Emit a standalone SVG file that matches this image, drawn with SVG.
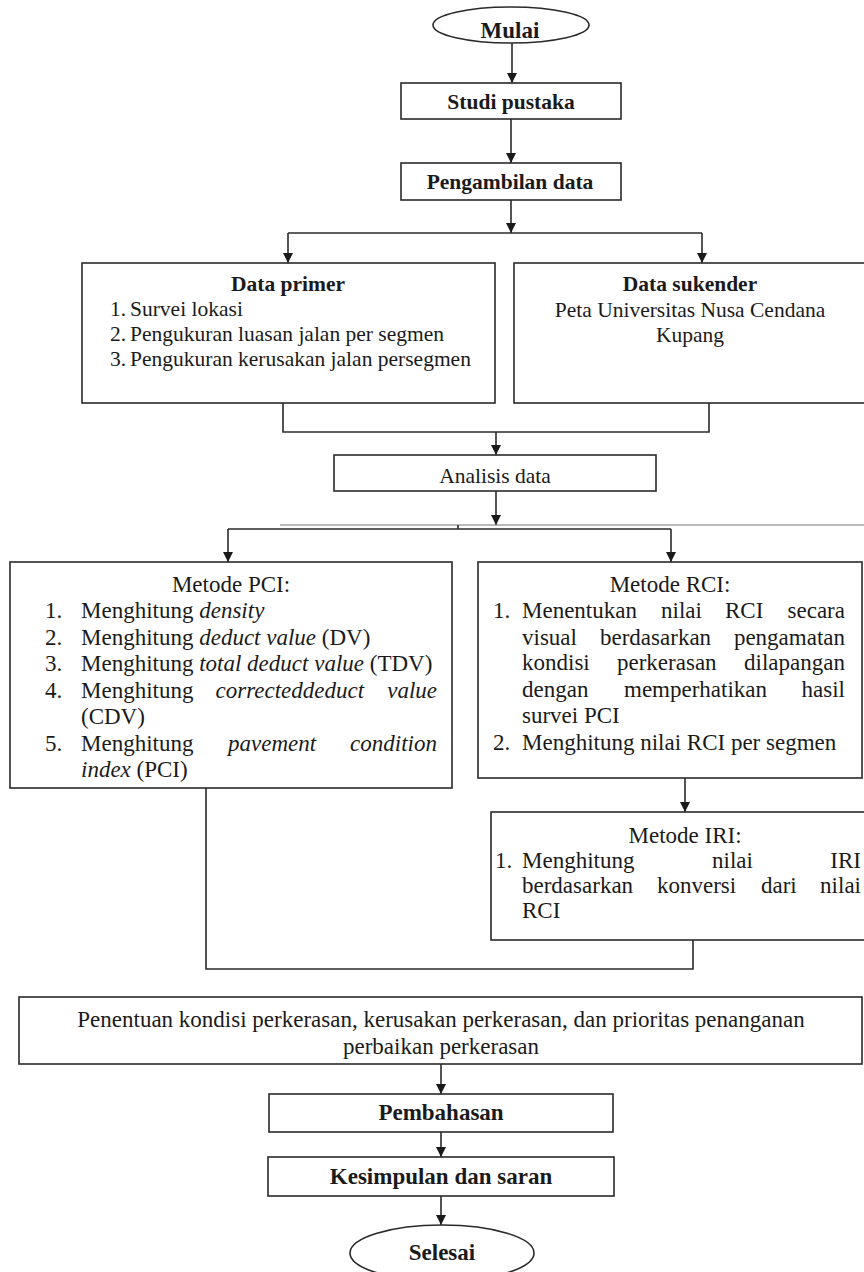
<svg xmlns="http://www.w3.org/2000/svg" width="864" height="1272" viewBox="0 0 864 1272">
<defs>
<marker id="ah" markerUnits="userSpaceOnUse" markerWidth="10" markerHeight="12" viewBox="0 0 10 12" refX="10" refY="6" orient="auto"><path d="M0,1 L10,6 L0,11 z" fill="#1a1a1a"/></marker>
<style>
.box{fill:#fff;stroke:#2a2a2a;stroke-width:1.6}
.ln{fill:none;stroke:#2a2a2a;stroke-width:1.6}
.ar{fill:none;stroke:#2a2a2a;stroke-width:1.6;marker-end:url(#ah)}
.thin{fill:none;stroke:#777;stroke-width:1}
.t{font-family:"Liberation Serif","Times New Roman",serif;fill:#1a1a1a}
.s{font-size:21.5px}
.m{font-size:23px}
.b{font-weight:bold}
.c{text-anchor:middle}
.e{text-anchor:end}
.i{font-style:italic}
</style>
</defs>
<rect width="864" height="1272" fill="#fff"/>
<g id="connectors">
<path class="ar" d="M512,43 V83"/>
<path class="ar" d="M511,119 V163"/>
<path class="ar" d="M511,200 V233"/>
<path class="ln" d="M288,233 H702"/>
<path class="ar" d="M288,233 V263"/>
<path class="ar" d="M702,233 V263"/>
<path class="ln" d="M283,403 V432 H709 V403"/>
<path class="ar" d="M496,432 V455"/>
<path class="ar" d="M496,491 V525"/>
<path class="thin" d="M280,525 H864"/>
<path class="ln" d="M228,529 H671 M458,525 V529"/>
<path class="ar" d="M228,529 V562"/>
<path class="ar" d="M671,529 V562"/>
<path class="ar" d="M685,778 V812"/>
<path class="ln" d="M206,788 V969 H693 V940"/>
<path class="ar" d="M441,1064 V1094"/>
<path class="ar" d="M441,1132 V1157"/>
<path class="ar" d="M441,1196 V1225"/>
</g>
<g id="mulai">
<ellipse class="box" cx="511" cy="25" rx="78" ry="18"/>
<text class="t m b c" x="510" y="38">Mulai</text>
</g>
<g id="studi">
<rect class="box" x="401" y="83" width="220" height="36"/>
<text class="t s b c" x="511" y="109">Studi pustaka</text>
</g>
<g id="pengambilan">
<rect class="box" x="401" y="163" width="220" height="37"/>
<text class="t s b c" x="510" y="189">Pengambilan data</text>
</g>
<g id="primer">
<rect class="box" x="82" y="263" width="413" height="140"/>
<text class="t s b c" x="288" y="291">Data primer</text>
<text class="t s" x="110" y="316">1.</text><text class="t s" x="130" y="316">Survei lokasi</text>
<text class="t s" x="110" y="341">2.</text><text class="t s" x="130" y="341">Pengukuran luasan jalan per segmen</text>
<text class="t s" x="110" y="366">3.</text><text class="t s" x="130" y="366">Pengukuran kerusakan jalan persegmen</text>
</g>
<g id="sukender">
<rect class="box" x="514" y="263" width="352" height="140"/>
<text class="t s b c" x="690" y="291">Data sukender</text>
<text class="t s c" x="690" y="317">Peta Universitas Nusa Cendana</text>
<text class="t s c" x="690" y="342">Kupang</text>
</g>
<g id="analisis">
<rect class="box" x="334" y="455" width="322" height="36"/>
<text class="t s c" x="495" y="483">Analisis data</text>
</g>
<g id="pci">
<rect class="box" x="10" y="562" width="442" height="226"/>
<text class="t m c" x="231" y="592">Metode PCI:</text>
<text class="t m" x="45" y="618">1.</text><text class="t m" x="81" y="618">Menghitung <tspan class="i">density</tspan></text>
<text class="t m" x="45" y="645">2.</text><text class="t m" x="81" y="645">Menghitung <tspan class="i">deduct value</tspan> (DV)</text>
<text class="t m" x="45" y="671">3.</text><text class="t m" x="81" y="671">Menghitung <tspan class="i">total deduct value</tspan> (TDV)</text>
<text class="t m" x="45" y="698">4.</text><text class="t m" x="81" y="698">Menghitung</text><text class="t m i" x="215.5" y="698">correcteddeduct</text><text class="t m i e" x="437" y="698">value</text>
<text class="t m" x="81" y="724">(CDV)</text>
<text class="t m" x="45" y="751">5.</text><text class="t m" x="81" y="751">Menghitung</text><text class="t m i" x="228" y="751">pavement</text><text class="t m i e" x="437" y="751">condition</text>
<text class="t m" x="81" y="777"><tspan class="i">index</tspan> (PCI)</text>
</g>
<g id="rci">
<rect class="box" x="478" y="562" width="384" height="216"/>
<text class="t m c" x="670" y="592">Metode RCI:</text>
<text class="t m" x="493" y="618">1.</text>
<text class="t m" x="522" y="618">Menentukan</text><text class="t m" x="661" y="618">nilai</text><text class="t m" x="725" y="618">RCI</text><text class="t m e" x="845" y="618">secara</text>
<text class="t m" x="522" y="645">visual</text><text class="t m" x="600" y="645">berdasarkan</text><text class="t m e" x="845" y="645">pengamatan</text>
<text class="t m" x="522" y="670">kondisi</text><text class="t m" x="617" y="670">perkerasan</text><text class="t m e" x="845" y="670">dilapangan</text>
<text class="t m" x="522" y="697">dengan</text><text class="t m" x="624" y="697">memperhatikan</text><text class="t m e" x="845" y="697">hasil</text>
<text class="t m" x="522" y="723">survei PCI</text>
<text class="t m" x="493" y="750">2.</text><text class="t m" x="522" y="750">Menghitung nilai RCI per segmen</text>
</g>
<g id="iri">
<rect class="box" x="491" y="812" width="380" height="128"/>
<text class="t m c" x="685" y="843">Metode IRI:</text>
<text class="t m" x="495" y="868">1.</text>
<text class="t m" x="522" y="868">Menghitung</text><text class="t m" x="712" y="868">nilai</text><text class="t m e" x="861" y="868">IRI</text>
<text class="t m" x="522" y="893">berdasarkan</text><text class="t m" x="657" y="893">konversi</text><text class="t m" x="761" y="893">dari</text><text class="t m e" x="861" y="893">nilai</text>
<text class="t m" x="522" y="918">RCI</text>
</g>
<g id="penentuan">
<rect class="box" x="19" y="997" width="843" height="67"/>
<text class="t m c" x="441" y="1027">Penentuan kondisi perkerasan, kerusakan perkerasan, dan prioritas penanganan</text>
<text class="t m c" x="441" y="1054">perbaikan perkerasan</text>
</g>
<g id="pembahasan">
<rect class="box" x="269" y="1094" width="344" height="38"/>
<text class="t m b c" x="441" y="1120">Pembahasan</text>
</g>
<g id="kesimpulan">
<rect class="box" x="268" y="1157" width="346" height="39"/>
<text class="t m b c" x="441" y="1184">Kesimpulan dan saran</text>
</g>
<g id="selesai">
<ellipse class="box" cx="442" cy="1253" rx="92" ry="28"/>
<text class="t m b c" x="442" y="1260">Selesai</text>
</g>
</svg>
